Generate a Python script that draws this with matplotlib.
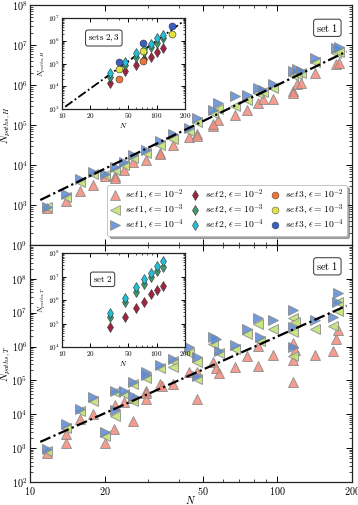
import numpy as np
import matplotlib
matplotlib.use('Agg')
import matplotlib.pyplot as plt
from matplotlib.ticker import FixedLocator, FuncFormatter, LogLocator, NullFormatter
from matplotlib.lines import Line2D

plt.rcParams['mathtext.fontset'] = 'cm'
plt.rcParams['font.family'] = ['DejaVu Serif']

# ---------------- data (log10 of number of paths) -------------
# set 1, N_paths,H (top panel)
s1H_N = [11.7, 14.0, 15.9, 18.0, 20.0, 22.1, 24.0, 26.1, 29.5, 33.5, 37.9, 44.0, 47.4,
         55.1, 57.7, 67.6, 75.6, 83.8, 87.7, 95.5, 116, 120, 124, 142, 172, 177]
s1H_e2 = [2.93, 3.10, 3.35, 3.50, 3.72, 3.72, 3.87, 4.08, 4.12, 4.31, 4.50, 4.70, 4.78,
          4.97, 5.12, 5.26, 5.38, 5.55, 5.66, 5.66, 5.86, 6.02, 6.05, 6.31, 6.53, 6.56]
s1H_e3 = [2.95, 3.20, 3.58, 3.77, 3.74, 3.87, 4.00, 4.17, 4.30, 4.50, 4.65, 4.85, 5.08,
          5.30, 5.40, 5.47, 5.62, 5.80, 5.83, 5.93, 6.25, 6.27, 6.30, 6.58, 6.80, 6.82]
s1H_e4 = [2.96, 3.28, 3.64, 3.82, 3.77, 3.96, 4.07, 4.25, 4.37, 4.60, 4.78, 4.92, 5.17,
          5.37, 5.54, 5.73, 5.75, 5.92, 5.88, 6.02, 6.35, 6.40, 6.36, 6.67, 6.92, 6.96]
s1H_extra_N = [22.1, 33.5, 47.4, 55.1, 116]
s1H_extra_e2 = [3.67, 4.27, 4.73, 5.02, 5.80]

# set 1, N_paths,T (bottom panel)
s1T_e2_N = [11.7, 14.0, 14.0, 15.9, 18.0, 20.0, 21.9, 22.1, 24.0, 26.1, 26.1, 29.5, 29.5,
            29.5, 33.5, 34.0, 37.9, 44.0, 47.4, 47.4, 55.1, 56.5, 58.0, 67.6, 75.6, 83.8,
            83.8, 95.5, 116, 118, 116, 116, 142, 167, 172, 175]
s1T_e2 = [2.86, 3.43, 3.14, 3.87, 4.00, 3.14, 3.57, 4.27, 4.37, 3.80, 4.47, 4.69, 4.64,
          4.45, 4.89, 4.84, 4.89, 5.24, 5.24, 4.45, 5.54, 5.36, 5.22, 5.40, 5.72, 5.44,
          6.01, 5.74, 6.11, 5.91, 5.60, 4.96, 5.76, 5.88, 6.23, 6.48]
s1T_e3_N = [11.7, 14.0, 15.9, 18.0, 20.0, 22.1, 22.1, 24.0, 26.1, 26.1, 29.5, 33.5, 37.9,
            37.9, 44.0, 47.4, 47.4, 55.1, 58.0, 67.6, 75.6, 83.8, 85.0, 95.5, 116, 118,
            116, 116, 142, 167, 175, 175]
s1T_e3 = [2.91, 3.60, 4.10, 4.40, 3.35, 4.65, 3.95, 4.60, 4.89, 4.40, 5.06, 5.36, 5.56,
          5.39, 5.80, 5.55, 5.04, 6.08, 5.81, 5.93, 6.38, 6.68, 6.15, 6.53, 6.85, 6.73,
          6.43, 5.72, 6.53, 6.61, 7.32, 7.04]
s1T_e4_N = [11.7, 14.0, 15.9, 18.0, 20.0, 22.1, 22.1, 24.0, 26.1, 26.1, 29.5, 29.5, 33.5,
            37.9, 44.0, 47.4, 47.4, 55.1, 56.5, 58.0, 67.6, 75.6, 83.8, 85.0, 95.5, 116,
            116, 116, 142, 167, 175, 174]
s1T_e4 = [2.96, 3.70, 4.17, 4.50, 3.47, 4.69, 4.13, 4.69, 4.96, 4.54, 5.24, 5.16, 5.46,
          5.64, 6.00, 5.70, 5.14, 6.28, 6.21, 5.88, 6.05, 6.53, 6.83, 6.28, 6.78, 7.07,
          6.58, 5.98, 6.78, 6.88, 7.57, 7.32]

# set 2 and set 3 (insets)
s2_N = [32, 46, 60, 74, 88, 102, 116]
s2H_e2 = [4.15, 4.66, 4.93, 5.18, 5.30, 5.50, 5.66]
s2H_e3 = [4.40, 4.92, 5.29, 5.50, 5.74, 5.88, 6.10]
s2H_e4 = [4.59, 5.07, 5.44, 5.62, 5.85, 6.10, 6.25]
s2T_e2 = [4.84, 5.27, 5.65, 5.93, 6.27, 6.41, 6.60]
s2T_e3 = [5.27, 5.90, 6.35, 6.67, 6.97, 7.23, 7.39]
s2T_e4 = [5.45, 6.10, 6.55, 6.88, 7.15, 7.44, 7.65]
s3_N_e2 = [40, 72]
s3H_e2 = [4.34, 5.12]
s3_N = [40, 72, 144]
s3H_e3 = [4.78, 5.56, 6.30]
s3H_e4 = [5.07, 5.88, 6.63]

# guide lines N_paths = C * N^p
lineH_C, lineH_p = 1.0, 3.0
lineT_C, lineT_p = 10 ** -0.2, 3.25
line_N = [11.0, 190.0]
lineHi_N = [10.8, 200.0]

xticks = [10, 20, 50, 100, 200]

# ---------------- styles ----------------
c_up, c_left, c_right = '#f28b7c', '#bfe070', '#5a88d4'
c2 = ['#9e2440', '#3f9a6c', '#22c0d6']
c3 = ['#ee7535', '#e2e244', '#3b5fc4']
st1 = [dict(marker='^', color=c_up), dict(marker='<', color=c_left), dict(marker='>', color=c_right)]
labels1 = [r'$set\,1, \epsilon=10^{-2}$', r'$set\,1, \epsilon=10^{-3}$', r'$set\,1, \epsilon=10^{-4}$']
labels2 = [r'$set\,2, \epsilon=10^{-2}$', r'$set\,2, \epsilon=10^{-3}$', r'$set\,2, \epsilon=10^{-4}$']
labels3 = [r'$set\,3, \epsilon=10^{-2}$', r'$set\,3, \epsilon=10^{-3}$', r'$set\,3, \epsilon=10^{-4}$']

def p10(a):
    return np.power(10.0, np.asarray(a, dtype=float))

def sc1(ax, N, v, k):
    ax.plot(N, p10(v), ls='none', marker=st1[k]['marker'], ms=7.0,
            mfc=st1[k]['color'], mec='#8a8a8a', mew=0.7, alpha=0.85, zorder=3)

def dec_fmt(v, pos):
    return r'$10^{%d}$' % int(round(np.log10(v)))

def style_axes(ax, ymin, ymax, fs, maj=4, mnr=2, xlabels=True, hide_low=False, pad=2):
    ax.set_xscale('log'); ax.set_yscale('log')
    ax.set_xlim(10, 200); ax.set_ylim(10 ** ymin, 10 ** ymax)
    ax.xaxis.set_major_locator(FixedLocator(xticks))
    ax.xaxis.set_minor_locator(LogLocator(base=10, subs=np.arange(2, 10)))
    ax.xaxis.set_minor_formatter(NullFormatter())
    if xlabels:
        ax.xaxis.set_major_formatter(FuncFormatter(lambda v, p: r'$%d$' % int(v)))
    else:
        ax.xaxis.set_major_formatter(NullFormatter())
    ax.yaxis.set_major_locator(FixedLocator([10.0 ** k for k in range(ymin, ymax + 1)]))
    ax.yaxis.set_minor_locator(LogLocator(base=10, subs=np.arange(2, 10), numticks=20))
    ax.yaxis.set_minor_formatter(NullFormatter())
    if hide_low:
        ax.yaxis.set_major_formatter(FuncFormatter(lambda v, p: '' if abs(np.log10(v) - ymin) < 0.01 else dec_fmt(v, p)))
    else:
        ax.yaxis.set_major_formatter(FuncFormatter(dec_fmt))
    ax.tick_params(which='both', direction='in', top=True, right=True, labelsize=fs, pad=pad)
    ax.tick_params(which='major', length=maj, width=0.7)
    ax.tick_params(which='minor', length=mnr, width=0.5)
    for s in ax.spines.values():
        s.set_linewidth(0.9)
        s.set_color('#222222')

fig = plt.figure(figsize=(3.58, 5.05), dpi=100)
ax1 = fig.add_axes([30 / 358, 1 - 245 / 505, 322 / 358, 240 / 505])
ax2 = fig.add_axes([30 / 358, 1 - 482 / 505, 322 / 358, 237 / 505])

# ---------------- top panel ----------------
style_axes(ax1, 2, 8, 7.3, xlabels=False, hide_low=True, pad=1.5)
lN = np.array(line_N)
ax1.plot(lN, lineH_C * lN ** lineH_p, color='k', lw=1.6, ls=(0, (5, 1.5, 1, 1.5)), zorder=4)
sc1(ax1, s1H_N, s1H_e2, 0)
sc1(ax1, s1H_extra_N, s1H_extra_e2, 0)
sc1(ax1, s1H_N, s1H_e3, 1)
sc1(ax1, s1H_N, s1H_e4, 2)
ax1.set_ylabel(r'$N_{paths,H}$', fontsize=7.5)
ax1.yaxis.set_label_coords(-0.054, 0.5)
ax1.text(0.958, 0.905, r'$\mathrm{set\ 1}$', transform=ax1.transAxes, fontsize=7.5,
         ha='right', va='center',
         bbox=dict(boxstyle='round,pad=0.25', fc='white', ec='#333333', lw=0.7))

# legend
handles = []
for k in range(3):
    handles.append(Line2D([], [], ls='none', marker=st1[k]['marker'], ms=6.5, mfc=st1[k]['color'],
                          mec='#8a8a8a', mew=0.6, alpha=0.85, label=labels1[k]))
for k in range(3):
    handles.append(Line2D([], [], ls='none', marker='d', ms=5, mfc=c2[k],
                          mec='#333333', mew=0.4, label=labels2[k]))
for k in range(3):
    handles.append(Line2D([], [], ls='none', marker='o', ms=5, mfc=c3[k],
                          mec='#333333', mew=0.3, label=labels3[k]))
leg = ax1.legend(handles=handles, ncol=3, loc='lower right', bbox_to_anchor=(0.99, 0.03),
                 fontsize=7.0, frameon=True, fancybox=True, shadow=True, handlelength=1.0,
                 handletextpad=0.5, columnspacing=0.7, labelspacing=0.0, borderpad=0.3,
                 borderaxespad=0.2)
leg.get_frame().set_edgecolor('#bbbbbb')
leg.get_frame().set_linewidth(0.6)

# ---------------- bottom panel ----------------
style_axes(ax2, 2, 9, 7.3, pad=2)
ax2.plot(lN, lineT_C * lN ** lineT_p, color='k', lw=1.6, ls=(0, (5, 1.5, 1, 1.5)), zorder=4)
sc1(ax2, s1T_e2_N, s1T_e2, 0)
sc1(ax2, s1T_e3_N, s1T_e3, 1)
sc1(ax2, s1T_e4_N, s1T_e4, 2)
ax2.set_ylabel(r'$N_{paths,T}$', fontsize=7.5)
ax2.yaxis.set_label_coords(-0.054, 0.5)
ax2.set_xlabel(r'$N$', fontsize=7.5)
ax2.xaxis.set_label_coords(0.5, -0.052)
ax2.text(0.958, 0.91, r'$\mathrm{set\ 1}$', transform=ax2.transAxes, fontsize=7.5,
         ha='right', va='center',
         bbox=dict(boxstyle='round,pad=0.25', fc='white', ec='#333333', lw=0.7))

# ---------------- insets ----------------
axi1 = fig.add_axes([62 / 358, 1 - 109 / 505, 123 / 358, 91 / 505])
style_axes(axi1, 3, 7, 5.2, maj=3, mnr=1.5, pad=1.5)
li = np.array(lineHi_N)
axi1.plot(li, lineH_C * li ** lineH_p, color='k', lw=1.3, ls=(0, (5, 1.5, 1, 1.5)), zorder=2)
for k, vals in enumerate([s2H_e2, s2H_e3, s2H_e4]):
    axi1.plot(s2_N, p10(vals), ls='none', marker='d', ms=4.6, mfc=c2[k], mec='#333333', mew=0.4, zorder=3)
axi1.plot(s3_N_e2, p10(s3H_e2), ls='none', marker='o', ms=5, mfc=c3[0], mec='#333333', mew=0.4, zorder=3)
axi1.plot(s3_N, p10(s3H_e3), ls='none', marker='o', ms=5, mfc=c3[1], mec='#333333', mew=0.4, zorder=3)
axi1.plot(s3_N, p10(s3H_e4), ls='none', marker='o', ms=5, mfc=c3[2], mec='#333333', mew=0.4, zorder=3)
axi1.set_ylabel(r'$N_{paths,H}$', fontsize=5.3, labelpad=0.5)
axi1.set_xlabel(r'$N$', fontsize=5.3, labelpad=0.5)
axi1.text(0.34, 0.78, r'$\mathrm{sets\ 2,3}$', transform=axi1.transAxes, fontsize=6.5,
          ha='center', va='center',
          bbox=dict(boxstyle='round,pad=0.25', fc='white', ec='#333333', lw=0.7))

axi2 = fig.add_axes([62 / 358, 1 - 347 / 505, 123 / 358, 94 / 505])
style_axes(axi2, 4, 8, 5.2, maj=3, mnr=1.5, pad=1.5)
for k, vals in enumerate([s2T_e2, s2T_e3, s2T_e4]):
    axi2.plot(s2_N, p10(vals), ls='none', marker='d', ms=4.6, mfc=c2[k], mec='#333333', mew=0.4, zorder=3)
axi2.set_ylabel(r'$N_{paths,T}$', fontsize=5.3, labelpad=0.5)
axi2.set_xlabel(r'$N$', fontsize=5.3, labelpad=0.5)
axi2.text(0.33, 0.72, r'$\mathrm{set\ 2}$', transform=axi2.transAxes, fontsize=6.5,
          ha='center', va='center',
          bbox=dict(boxstyle='round,pad=0.25', fc='white', ec='#333333', lw=0.7))

fig.savefig('out.png', dpi=100)
